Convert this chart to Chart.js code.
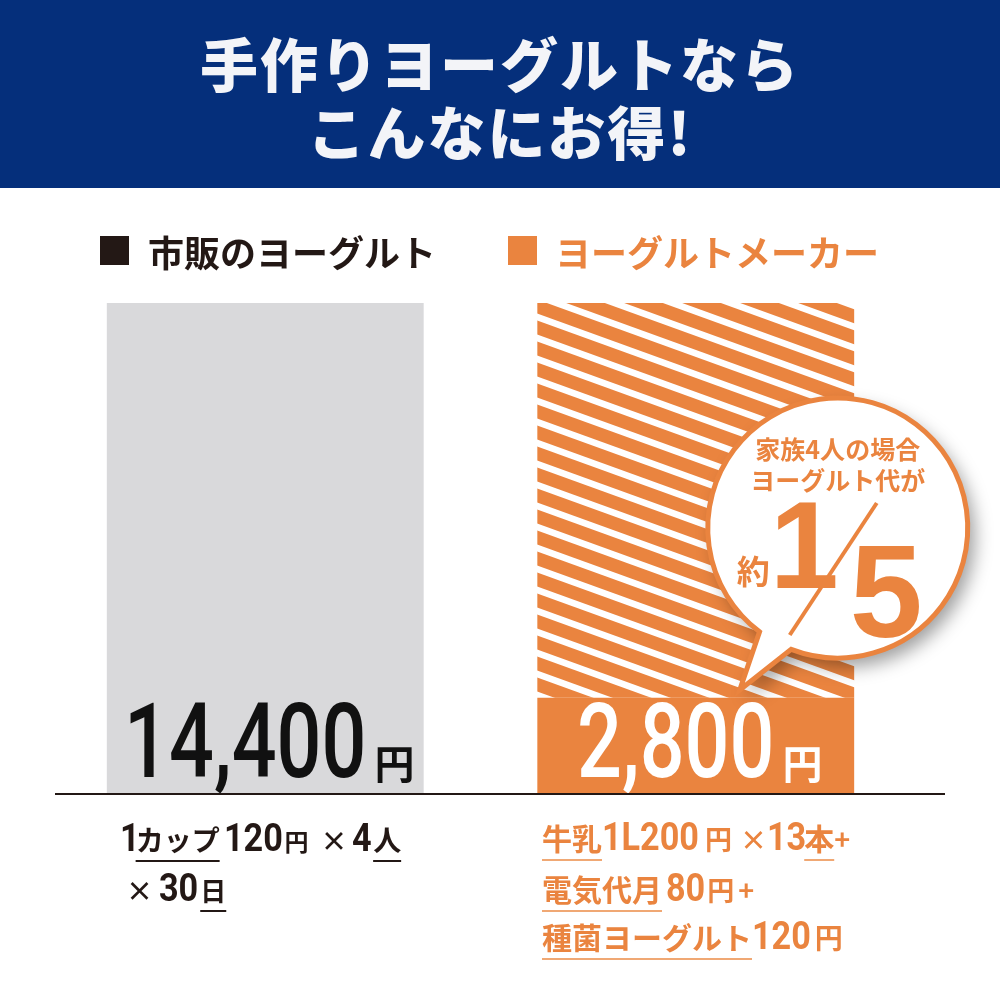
<!DOCTYPE html>
<html><head><meta charset="utf-8">
<script src="https://cdn.jsdelivr.net/npm/chart.js@4"></script>
<style>
html,body{margin:0;padding:0;background:#fff;}
#wrap{position:relative;width:1000px;height:1000px;overflow:hidden;font-family:"Noto Sans CJK JP",sans-serif;}
#chart{position:absolute;left:0;top:0;}
#header{position:absolute;left:0;top:0;width:1000px;height:188px;background:#052f7b;}
.title{position:absolute;left:0;width:1000px;text-align:center;color:#f3f4f8;font-weight:900;font-size:58px;line-height:58px;letter-spacing:2px;}
.leg{position:absolute;top:233px;font-weight:700;font-size:36px;line-height:36px;white-space:nowrap;}
.sq{position:absolute;top:236px;width:29px;height:29px;}
.note{position:absolute;font-weight:700;white-space:nowrap;font-size:30px;line-height:40px;height:40px;}
.n{font-family:Roboto,"Liberation Sans",sans-serif;font-weight:700;font-size:38px;}
.s{font-size:27px;}
.u{text-decoration:underline;text-decoration-thickness:2px;text-underline-offset:9px;}
.dk{color:#231815;}
.or{color:#ea843f;}
.or .u{text-decoration-color:#f0a874;}
</style></head>
<body>
<div id="wrap">
  <canvas id="chart" width="1000" height="1000"></canvas>
  <div id="header">
    <div class="title" style="top:33px;">手作りヨーグルトなら</div>
    <div class="title" style="top:101px;">こんなにお得!</div>
  </div>
  <div class="sq" style="left:100px;background:#231815;"></div>
  <div class="leg dk" id="leg0" style="left:148px;"></div>
  <div class="sq" style="left:508px;background:#ea843f;"></div>
  <div class="leg or" id="leg1" style="left:555px;"></div>

  <div class="note dk" style="left:120px;top:818px;"><span class="n" style="margin-right:-4px;">1</span><span class="u" style="font-size:28px;">カップ</span><span class="n" style="margin-left:4px;">120</span><span style="font-size:24px;margin-left:2px;">円</span><span class="s" style="margin-left:12px;">×</span><span class="n" style="margin-left:4px;">4</span><span class="u" style="font-size:28px;margin-left:2px;">人</span></div>
  <div class="note dk" style="left:126px;top:868px;"><span class="s">×</span><span class="n" style="margin-left:6px;">30</span><span class="u" style="font-size:26px;margin-left:2px;">日</span></div>

  <div class="note or" style="left:542px;top:817px;"><span class="u">牛乳</span><span class="n">1L200</span><span class="s" style="margin-left:6px;">円</span><span class="s" style="margin-left:8px;">×</span><span class="n">13</span><span class="u" style="margin-left:-2px;">本</span><span class="s">+</span></div>
  <div class="note or" style="left:542px;top:868px;"><span class="u">電気代月</span><span class="n" style="margin-left:4px;">80</span><span class="s" style="margin-left:2px;">円</span><span class="s" style="margin-left:4px;">+</span></div>
  <div class="note or" style="left:542px;top:916px;"><span class="u">種菌ヨーグルト</span><span class="n">120</span><span class="s" style="margin-left:4px;font-size:28px;">円</span></div>
</div>
<script>
// ---- data ----
const categories = ['市販のヨーグルト', 'ヨーグルトメーカー'];
const costValues = [14400, 2800];
const savingValues = [0, 11600];
const valueLabels = ['14,400', '2,800'];
const yenUnit = '円';
const yMin = 0;
const yMax = 14400;

const ORANGE = '#ea843f';
const GRAY = '#d9d9db';
const DARK = '#231815';

document.getElementById('leg0').textContent = categories[0];
document.getElementById('leg1').textContent = categories[1];

// condensed digits in notes
document.querySelectorAll('.n').forEach(function(sp){
  sp.style.display = 'inline-block';
  const w = sp.getBoundingClientRect().width;
  const k = 0.9;
  sp.style.width = (w * k) + 'px';
  sp.style.transform = 'scaleX(' + k + ')';
  sp.style.transformOrigin = 'left center';
});

function stripePattern(){
  const W = 58, H = 21, T = 14;
  const c = document.createElement('canvas');
  c.width = W; c.height = H;
  const g = c.getContext('2d');
  g.fillStyle = '#ffffff'; g.fillRect(0,0,W,H);
  g.fillStyle = ORANGE;
  for (let k = -2; k <= 2; k++) {
    g.beginPath();
    g.moveTo(0, k*H); g.lineTo(W, k*H+H); g.lineTo(W, k*H+H+T); g.lineTo(0, k*H+T);
    g.closePath(); g.fill();
  }
  return g.createPattern(c, 'repeat');
}

const decorPlugin = {
  id: 'decor',
  afterDatasetsDraw(chart) {
    const ctx = chart.ctx;
    const ys = chart.scales.y;
    const base = ys.getPixelForValue(0);
    const bars0 = chart.getDatasetMeta(0).data;
    const orangeBar = bars0[1];

    // speech bubble
    const cx = orangeBar.x + 142, cy = chart.chartArea.top + 225, r = 130;
    const a1 = 127 * Math.PI / 180, a2 = (111 + 360) * Math.PI / 180;
    const tip = { x: cx - 98, y: cy + 162 };
    ctx.save();
    ctx.beginPath();
    ctx.arc(cx, cy, r, a1, a2, false);
    ctx.lineTo(tip.x, tip.y);
    ctx.closePath();
    ctx.shadowColor = 'rgba(0,0,0,0.38)';
    ctx.shadowBlur = 18; ctx.shadowOffsetX = 7; ctx.shadowOffsetY = 9;
    ctx.fillStyle = '#ffffff';
    ctx.fill();
    ctx.shadowColor = 'transparent';
    ctx.lineWidth = 5; ctx.lineJoin = 'miter';
    ctx.strokeStyle = ORANGE;
    ctx.stroke();
    ctx.fillStyle = ORANGE;
    ctx.textAlign = 'center'; ctx.textBaseline = 'middle';
    ctx.font = 'bold 25px "Noto Sans CJK JP"';
    ctx.fillText('家族4人の場合', cx, cy - 79);
    ctx.fillText('ヨーグルト代が', cx, cy - 48);
    ctx.textAlign = 'left'; ctx.textBaseline = 'alphabetic';
    ctx.font = 'bold 33px "Noto Sans CJK JP"';
    ctx.fillText('約', cx - 101, cy + 56);
    ctx.font = 'bold 124px "Liberation Sans"';
    ctx.fillText('1', cx - 68, cy + 60);
    ctx.font = 'bold 131px "Liberation Sans"';
    ctx.fillText('5', cx + 12, cy + 109);
    ctx.beginPath();
    ctx.moveTo(cx + 39, cy - 25); ctx.lineTo(cx - 48, cy + 107);
    ctx.lineWidth = 4; ctx.lineCap = 'butt'; ctx.strokeStyle = ORANGE; ctx.stroke();
    ctx.restore();

    // value labels
    const colors = ['#111111', '#ffffff'];
    const numFont = '500 104px Roboto';
    bars0.forEach(function(bar, i){
      const sx = 0.76;
      ctx.save();
      ctx.font = numFont;
      const wNum = ctx.measureText(valueLabels[i]).width * sx;
      ctx.font = 'bold 40px "Noto Sans CJK JP"';
      const wYen = ctx.measureText(yenUnit).width;
      const gap = 8;
      const total = wNum + gap + wYen;
      const x0 = bar.x - total/2 + 4;
      const yb = base - 16;
      ctx.fillStyle = colors[i];
      ctx.textBaseline = 'alphabetic'; ctx.textAlign = 'left';
      ctx.save();
      ctx.translate(x0, yb); ctx.scale(sx, 1);
      ctx.font = numFont;
      ctx.fillText(valueLabels[i], 0, 0);
      ctx.restore();
      ctx.font = 'bold 40px "Noto Sans CJK JP"';
      ctx.fillText(yenUnit, x0 + wNum + gap, yb + 2);
      ctx.restore();
    });

    // baseline
    ctx.save();
    ctx.beginPath();
    ctx.moveTo(55, base + 1); ctx.lineTo(945, base + 1);
    ctx.lineWidth = 2; ctx.strokeStyle = DARK; ctx.stroke();
    ctx.restore();
  }
};

new Chart(document.getElementById('chart'), {
  type: 'bar',
  data: {
    labels: categories,
    datasets: [
      { label: 'cost', data: costValues, backgroundColor: [GRAY, ORANGE], borderWidth: 0, borderSkipped: false, borderRadius: 0 },
      { label: 'saving', data: savingValues, backgroundColor: stripePattern(), borderWidth: 0,
        borderRadius: { topLeft: 0, topRight: 5, bottomLeft: 0, bottomRight: 0 }, borderSkipped: false }
    ]
  },
  options: {
    responsive: false,
    animation: false,
    events: [],
    layout: { padding: { top: 303, bottom: 207, left: 50, right: 89 } },
    categoryPercentage: 0.736,
    barPercentage: 1,
    plugins: { legend: { display: false }, tooltip: { enabled: false } },
    scales: {
      x: { display: false, stacked: true },
      y: { display: false, stacked: true, min: yMin, max: yMax }
    }
  },
  plugins: [decorPlugin]
});
</script>
</body></html>
